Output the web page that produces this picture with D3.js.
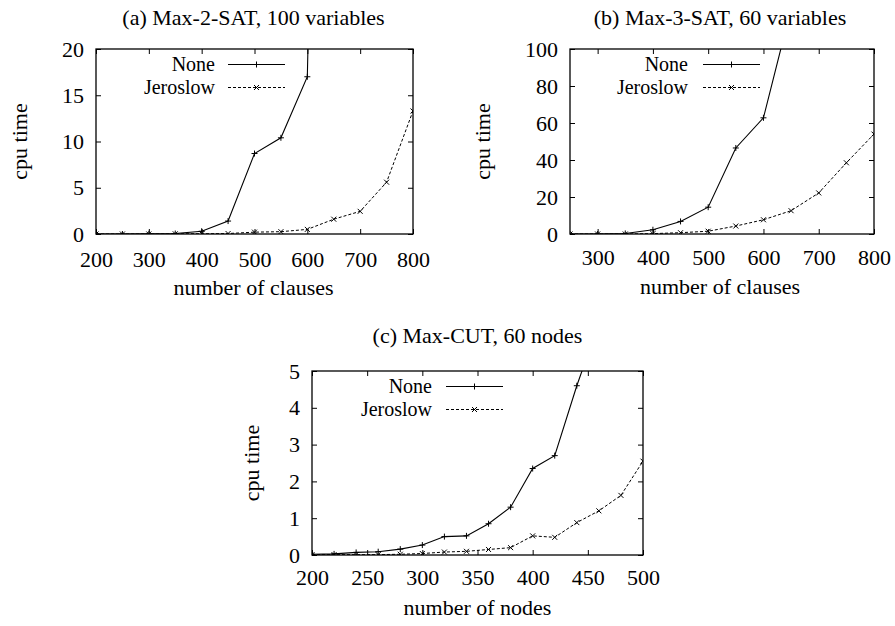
<!DOCTYPE html>
<html>
<head>
<meta charset="utf-8">
<script src="https://cdn.jsdelivr.net/npm/d3@7"></script>
<style>
  body { margin: 0; background: #fff; }
  text { font-family: "Liberation Serif", "Times New Roman", serif; fill: #000; }
</style>
</head>
<body>
<svg id="chart" width="895" height="626"></svg>
<script>
// (a) Max-2-SAT, 100 variables
const clausesA = [200, 250, 300, 350, 400, 450, 500, 550, 600, 650, 700, 750, 800];
const noneA = [0, 0, 0.02, 0.05, 0.3, 1.4, 8.7, 10.4, 17, 150];
const jeroA = [0, 0, 0, 0.02, 0.03, 0.05, 0.2, 0.25, 0.5, 1.6, 2.45, 5.6, 13.3];
const xTicksA = [200, 300, 400, 500, 600, 700, 800];
const yTicksA = [0, 5, 10, 15, 20];

// (b) Max-3-SAT, 60 variables
const clausesB = [250, 300, 350, 400, 450, 500, 550, 600, 650, 700, 750, 800];
const noneB = [0, 0, 0.3, 2.3, 6.8, 14.5, 46.5, 62.8, 122];
const jeroB = [0, 0, 0, 0.2, 0.7, 1.5, 4.3, 7.7, 12.6, 22.2, 38.5, 54];
const xTicksB = [300, 400, 500, 600, 700, 800];
const yTicksB = [0, 20, 40, 60, 80, 100];

// (c) Max-CUT, 60 nodes
const nodesC = [200, 220, 240, 260, 280, 300, 320, 340, 360, 380, 400, 420, 440, 460, 480, 500];
const noneC = [0.02, 0.03, 0.07, 0.09, 0.16, 0.27, 0.5, 0.52, 0.85, 1.3, 2.35, 2.7, 4.6, 6.3];
const jeroC = [0.01, 0.01, 0.01, 0.01, 0.02, 0.04, 0.08, 0.1, 0.15, 0.2, 0.52, 0.48, 0.88, 1.2, 1.62, 2.55];
const xTicksC = [200, 250, 300, 350, 400, 450, 500];
const yTicksC = [0, 1, 2, 3, 4, 5];

const svg = d3.select("#chart");
const fs = 22;

function plus(g, x, y) {
  g.append("path").attr("d", `M${x-3},${y}H${x+3}M${x},${y-3}V${y+3}`)
    .attr("stroke", "#000").attr("stroke-width", 1);
}
function cross(g, x, y) {
  g.append("path").attr("d", `M${x-2.5},${y-2.5}L${x+2.5},${y+2.5}M${x-2.5},${y+2.5}L${x+2.5},${y-2.5}`)
    .attr("stroke", "#000").attr("stroke-width", 1);
}

function panel(p) {
  const w = p.right - p.left, h = p.bottom - p.top;
  const g = svg.append("g").attr("transform", `translate(${p.left},${p.top})`);
  const x = d3.scaleLinear().domain(p.xDomain).range([0, w]);
  const y = d3.scaleLinear().domain(p.yDomain).range([h, 0]);
  const fmt = d3.format("d");

  // axes, gnuplot style: ticks inward on all four sides
  g.append("g").attr("transform", `translate(0,${h})`)
    .call(d3.axisBottom(x).tickValues(p.xTicks).tickFormat(fmt).tickSizeInner(-5).tickSizeOuter(0).tickPadding(p.xPad));
  g.append("g").call(d3.axisTop(x).tickValues(p.xTicks).tickSizeInner(-5).tickSizeOuter(0).tickFormat(""));
  const left = g.append("g")
    .call(d3.axisLeft(y).tickValues(p.yTicks).tickFormat(fmt).tickSizeInner(-5).tickSizeOuter(0).tickPadding(12));
  g.append("g").attr("transform", `translate(${w},0)`)
    .call(d3.axisRight(y).tickValues(p.yTicks).tickSizeInner(-5).tickSizeOuter(0).tickFormat(""));
  g.selectAll(".domain").remove();
  g.selectAll(".tick line").attr("stroke", "#000");
  g.selectAll(".tick text").style("font-size", fs + "px").attr("font-family", null);
  left.selectAll(".tick text").attr("dy", "0.32em");

  g.append("rect").attr("width", w).attr("height", h)
    .attr("fill", "none").attr("stroke", "#000").attr("stroke-width", 1.3);

  const clipId = "clip" + p.id;
  g.append("clipPath").attr("id", clipId).append("rect").attr("width", w).attr("height", h);
  const plot = g.append("g").attr("clip-path", `url(#${clipId})`);

  const line = d3.line().x(d => x(d[0])).y(d => y(d[1]));
  const none = p.noneY.map((v, i) => [p.xs[i], v]);
  const jero = p.jeroY.map((v, i) => [p.xs[i], v]);

  plot.append("path").datum(jero).attr("d", line).attr("fill", "none")
    .attr("stroke", "#000").attr("stroke-width", 1).attr("stroke-dasharray", "3,2");
  plot.append("path").datum(none).attr("d", line).attr("fill", "none")
    .attr("stroke", "#000").attr("stroke-width", 1.1);
  jero.forEach(d => cross(plot, x(d[0]), y(d[1])));
  none.forEach(d => plus(plot, x(d[0]), y(d[1])));

  // legend
  const lg = g.append("g");
  const ly1 = p.legY, ly2 = p.legY + 23;
  lg.append("text").attr("x", p.legText).attr("y", ly1).attr("dy", "0.32em")
    .attr("text-anchor", "end").style("font-size", "20px").text("None");
  lg.append("text").attr("x", p.legText).attr("y", ly2).attr("dy", "0.32em")
    .attr("text-anchor", "end").style("font-size", "20px").text("Jeroslow");
  lg.append("line").attr("x1", p.legLine).attr("x2", p.legLine + 57)
    .attr("y1", ly1).attr("y2", ly1).attr("stroke", "#000").attr("stroke-width", 1.1);
  lg.append("line").attr("x1", p.legLine).attr("x2", p.legLine + 57)
    .attr("y1", ly2).attr("y2", ly2).attr("stroke", "#000").attr("stroke-dasharray", "3,2");
  plus(lg, p.legLine + 28.5, ly1);
  cross(lg, p.legLine + 28.5, ly2);

  // titles and axis labels
  svg.append("text").attr("x", p.left + w / 2 + p.titleDx).attr("y", p.titleY)
    .attr("text-anchor", "middle").style("font-size", fs + "px").text(p.title);
  svg.append("text").attr("x", p.left + w / 2 + p.titleDx).attr("y", p.xLabelY)
    .attr("text-anchor", "middle").style("font-size", fs + "px").text(p.xLabel);
  svg.append("text").attr("transform", `translate(${p.yLabelX},${p.top + h / 2}) rotate(-90)`)
    .attr("text-anchor", "middle").attr("dy", "0.32em").style("font-size", fs + "px").text("cpu time");
}

panel({
  id: "a", left: 96, right: 413, top: 49, bottom: 234,
  xDomain: [200, 800], yDomain: [0, 20], xTicks: xTicksA, yTicks: yTicksA, xPad: 17,
  xs: clausesA, noneY: noneA, jeroY: jeroA,
  legY: 15.5, legText: 119, legLine: 132,
  title: "(a) Max-2-SAT, 100 variables", titleY: 25, titleDx: -1,
  xLabel: "number of clauses", xLabelY: 295, yLabelX: 20
});
panel({
  id: "b", left: 570, right: 874, top: 49, bottom: 234,
  xDomain: [250, 800], yDomain: [0, 100], xTicks: xTicksB, yTicks: yTicksB, xPad: 15,
  xs: clausesB, noneY: noneB, jeroY: jeroB,
  legY: 15.5, legText: 118, legLine: 133,
  title: "(b) Max-3-SAT, 60 variables", titleY: 25, titleDx: -2,
  xLabel: "number of clauses", xLabelY: 294, yLabelX: 483
});
panel({
  id: "c", left: 312, right: 643, top: 371, bottom: 555,
  xDomain: [200, 500], yDomain: [0, 5], xTicks: xTicksC, yTicks: yTicksC, xPad: 14,
  xs: nodesC, noneY: noneC, jeroY: jeroC,
  legY: 15.5, legText: 120, legLine: 134,
  title: "(c) Max-CUT, 60 nodes", titleY: 343, titleDx: 0,
  xLabel: "number of nodes", xLabelY: 615, yLabelX: 252
});
</script>
</body>
</html>
